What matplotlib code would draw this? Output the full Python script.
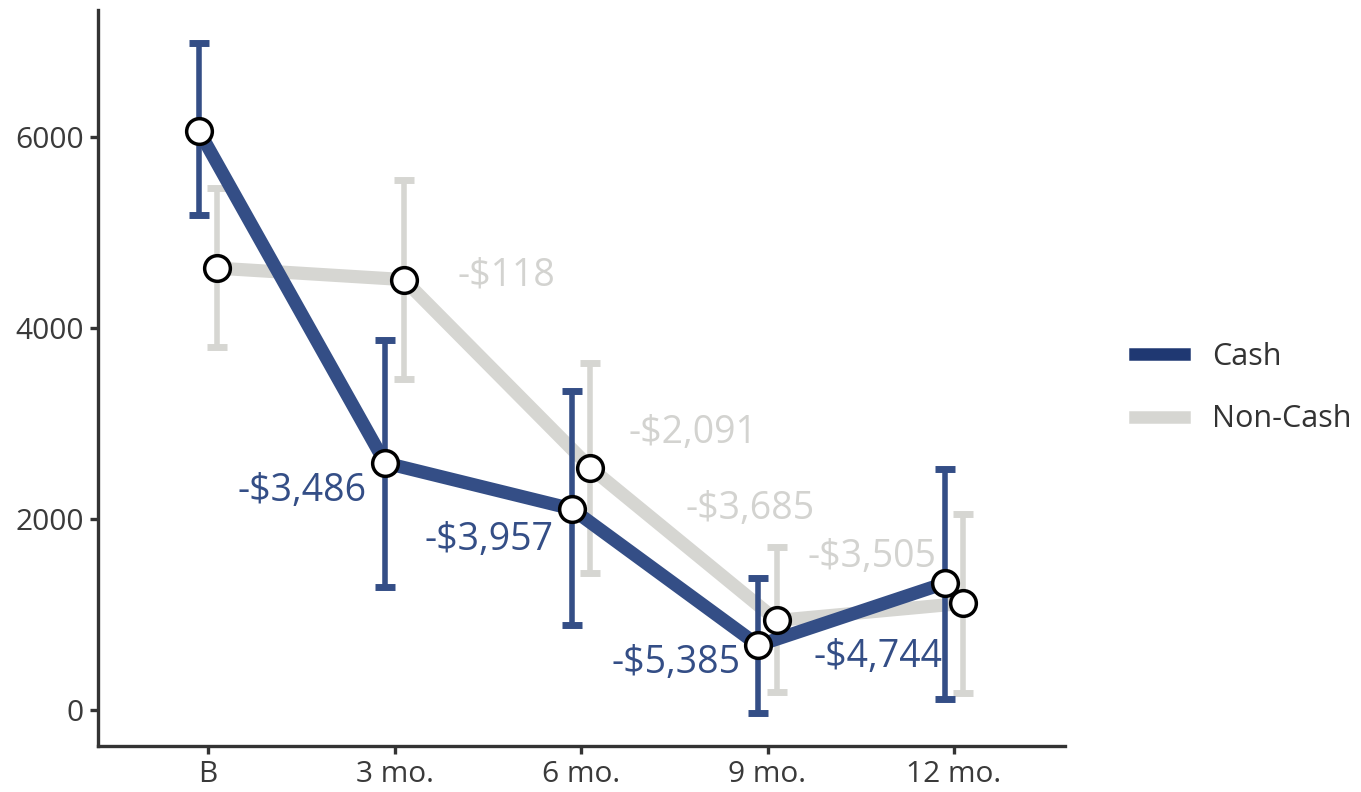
import matplotlib.pyplot as plt
import numpy as np

plt.rcParams['font.family'] = ['Open Sans', 'DejaVu Sans']

# timepoints and group means / error bar limits
timepoints = ['B', '3 mo.', '6 mo.', '9 mo.', '12 mo.']
cash_mean = [6070, 2590, 2110, 680, 1330]
cash_lo = [5190, 1290, 890, -30, 120]
cash_hi = [6990, 3880, 3340, 1390, 2530]
noncash_mean = [4630, 4510, 2540, 940, 1120]
noncash_lo = [3800, 3470, 1440, 190, 180]
noncash_hi = [5470, 5550, 3640, 1710, 2060]

# change from baseline, written next to each follow-up point
cash_change = ['-$3,486', '-$3,957', '-$5,385', '-$4,744']
noncash_change = ['-$118', '-$2,091', '-$3,685', '-$3,505']
cash_label_xy = [(1.853, 2300), (2.850, 1780), (3.853, 500), (4.936, 555)]
noncash_label_xy = [(2.340, 4555), (3.252, 2900), (3.558, 2105), (4.217, 1600)]

blue = '#344e86'
grey = '#d6d6d2'
dodge = 0.05

fig = plt.figure(figsize=(13.61, 7.92), dpi=100)
ax = fig.add_axes([0.072, 0.058, 0.7105, 0.929])

x = np.arange(1, len(timepoints) + 1)

def draw_group(xs, mean, lo, hi, color, z):
    ax.plot(xs, mean, color=color, lw=9.5, solid_capstyle='butt', zorder=z)
    mean = np.array(mean)
    err = [mean - np.array(lo), np.array(hi) - mean]
    ax.errorbar(xs, mean, yerr=err, fmt='none', ecolor=color, elinewidth=4,
                capsize=7, capthick=5, zorder=z + 0.5)
    ax.plot(xs, mean, 'o', ms=18.5, mfc='white', mec='black', mew=2.5, zorder=10)

draw_group(x + dodge, noncash_mean, noncash_lo, noncash_hi, grey, 2)
draw_group(x - dodge, cash_mean, cash_lo, cash_hi, blue, 3)

for txt, (lx, ly) in zip(cash_change, cash_label_xy):
    ax.text(lx, ly, txt, color=blue, fontsize=27, ha='right', va='center', zorder=11)
for txt, (lx, ly) in zip(noncash_change, noncash_label_xy):
    ax.text(lx, ly, txt, color='#d3d3d0', fontsize=27, ha='left', va='center', zorder=11)

ax.set_xlim(0.41, 5.595)
ax.set_ylim(-375, 7330)
ax.set_xticks(x)
ax.set_xticklabels(timepoints)
ax.set_yticks([0, 2000, 4000, 6000])
ax.tick_params(labelsize=21.5, colors='#333333', length=6, width=2.4, pad=4)
for lbl in ax.get_xticklabels() + ax.get_yticklabels():
    lbl.set_color('#3a3a3a')
for side in ['top', 'right']:
    ax.spines[side].set_visible(False)
for side in ['left', 'bottom']:
    ax.spines[side].set_linewidth(2.4)
    ax.spines[side].set_color('#333333')

handles = [plt.Line2D([], [], color='#1f3872', lw=9),
           plt.Line2D([], [], color=grey, lw=9)]
fig.legend(handles, ['Cash', 'Non-Cash'], loc='center left',
           bbox_to_anchor=(0.814, 0.51), frameon=False, fontsize=22,
           handlelength=1.6, handletextpad=0.9, labelspacing=1.07,
           labelcolor='#333333')

fig.savefig('out.png', dpi=100)
